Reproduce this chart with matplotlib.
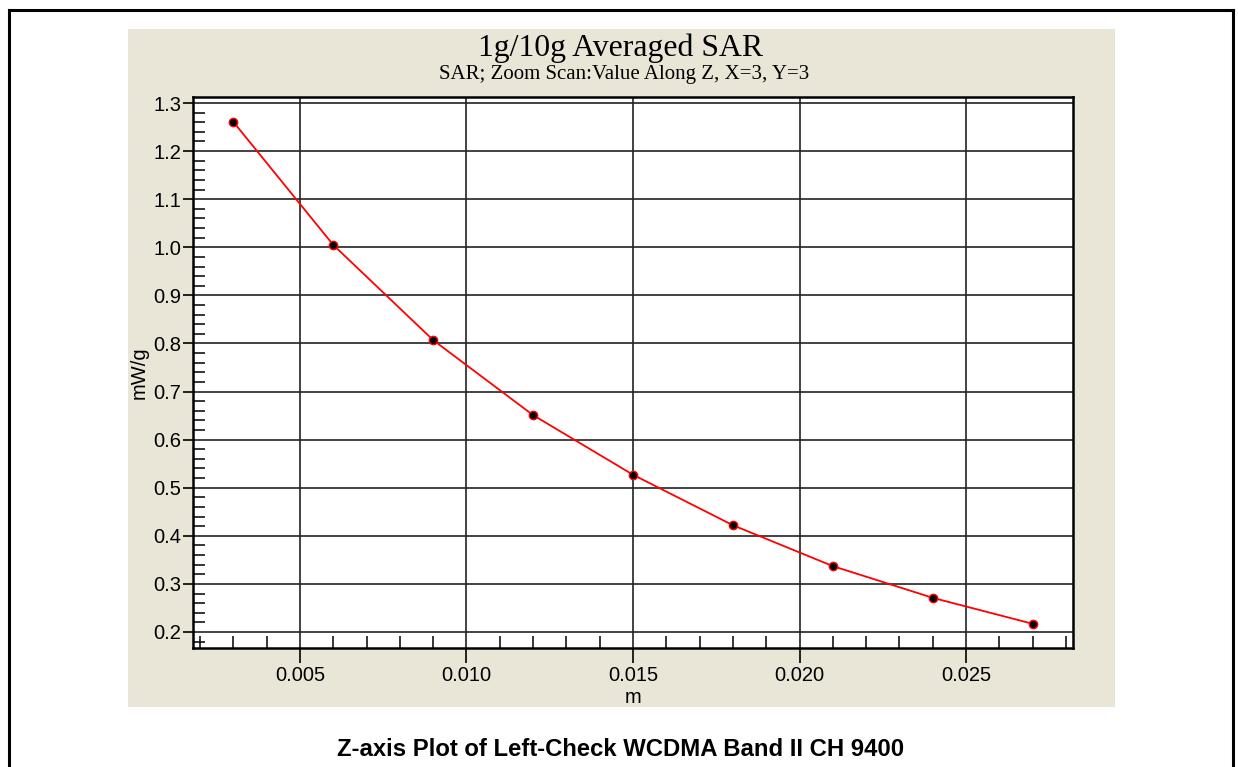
import numpy as np
import matplotlib
matplotlib.use("Agg")
import matplotlib.pyplot as plt
from matplotlib.ticker import MultipleLocator, FormatStrFormatter
from matplotlib.patches import Rectangle
from matplotlib.lines import Line2D

# data
depth_m = [0.003, 0.006, 0.009, 0.012, 0.015, 0.018, 0.021, 0.024, 0.027]
sar_mw_g = [1.261, 1.005, 0.807, 0.651, 0.527, 0.422, 0.337, 0.271, 0.217]

title = "1g/10g Averaged SAR"
subtitle = "SAR; Zoom Scan:Value Along Z, X=3, Y=3"
caption = "Z-axis Plot of Left-Check WCDMA Band II CH 9400"

W, H = 1238, 767
fig = plt.figure(figsize=(W / 100, H / 100), dpi=100)
fig.patch.set_facecolor("white")

def fx(px):
    return px / W

def fy(py):
    return 1 - py / H

# beige panel behind the chart
fig.add_artist(Rectangle((fx(128), fy(707)), fx(1115) - fx(128), fy(29) - fy(707),
                         transform=fig.transFigure, facecolor="#EAE6D7",
                         edgecolor="none", zorder=0))

# outer frame (left, top, right)
for xs, ys in [([8.7, 8.7], [9.7, 767]), ([8.7, 1233], [9.7, 9.7]), ([1233, 1233], [9.7, 767])]:
    fig.add_artist(Line2D([fx(x) for x in xs], [fy(y) for y in ys],
                          transform=fig.transFigure, color="black", lw=2.2,
                          solid_capstyle="projecting"))

ax = fig.add_axes([fx(193.3), fy(648), fx(1072.7) - fx(193.3), fy(97) - fy(648)])
ax.set_facecolor("white")
ax.set_zorder(2)

ax.plot(depth_m, sar_mw_g, color="red", lw=1.3, zorder=3)
ax.plot(depth_m, sar_mw_g, "o", ms=6, mfc="black", mec="red", mew=1.0, zorder=4)

ax.set_xlim(0.0018, 0.0282)
ax.set_ylim(0.1667, 1.3125)

ax.xaxis.set_major_locator(MultipleLocator(0.005))
ax.xaxis.set_minor_locator(MultipleLocator(0.001))
ax.yaxis.set_major_locator(MultipleLocator(0.1))
ax.yaxis.set_minor_locator(MultipleLocator(0.02))
ax.xaxis.set_major_formatter(FormatStrFormatter("%.3f"))
ax.yaxis.set_major_formatter(FormatStrFormatter("%.1f"))

ax.grid(True, which="major", color="#222222", lw=1.2)
ax.set_axisbelow(True)

sans = ["Liberation Sans", "DejaVu Sans"]
serif = ["Liberation Serif", "DejaVu Serif"]

ax.tick_params(axis="x", which="major", direction="out", length=10.8, width=1.2,
               pad=2, labelsize=14.5, colors="black")
ax.tick_params(axis="x", which="minor", direction="in", length=8.6, width=1.1)
ax.tick_params(axis="y", which="major", direction="out", length=7.2, width=1.2,
               pad=1.5, labelsize=14.5)
ax.tick_params(axis="y", which="minor", direction="in", length=8.6, width=1.1)
for lab in ax.get_xticklabels() + ax.get_yticklabels():
    lab.set_family(sans)

for sp in ax.spines.values():
    sp.set_linewidth(1.8)
    sp.set_color("black")

ax.set_xlabel("m", family=sans, fontsize=14.5, labelpad=2)
ax.set_ylabel("mW/g", family=sans, fontsize=14.5, labelpad=3)

fig.text(fx(621), fy(48), title, family=serif, fontsize=22.9, ha="center", va="center")
fig.text(fx(624), fy(74.5), subtitle, family=serif, fontsize=15, ha="center", va="center")
fig.text(fx(621), fy(749), caption, family=sans, fontsize=17.2, fontweight="bold",
         ha="center", va="center")

fig.savefig("out.png", dpi=100, facecolor="white")
